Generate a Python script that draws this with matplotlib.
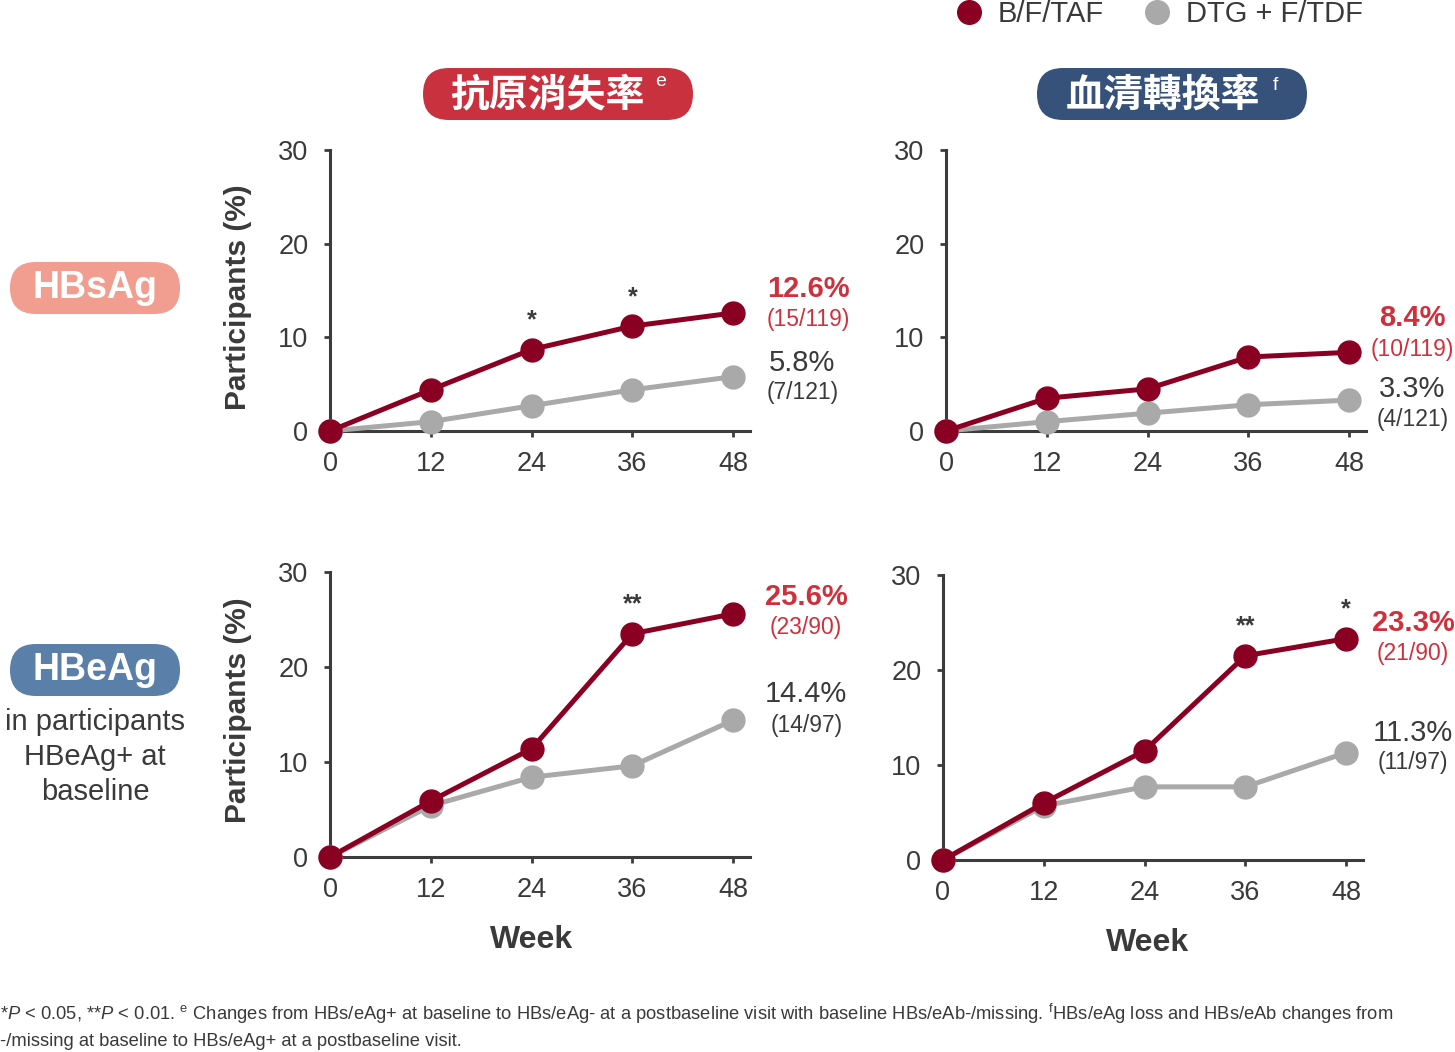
import matplotlib
matplotlib.use("Agg")
import matplotlib.pyplot as plt
from matplotlib.patches import FancyBboxPatch
from matplotlib.lines import Line2D

plt.rcParams["font.family"] = ["Liberation Sans", "DejaVu Sans"]
plt.rcParams["mathtext.fontset"] = "custom"
plt.rcParams["mathtext.rm"] = "Liberation Sans"
plt.rcParams["mathtext.it"] = "Liberation Sans:italic"

# data
weeks = [0, 12, 24, 36, 48]
hbsag_loss_bft = [0, 4.4, 8.7, 11.2, 12.6]
hbsag_loss_dtg = [0, 1.0, 2.7, 4.4, 5.8]
hbsag_sero_bft = [0, 3.5, 4.5, 7.9, 8.4]
hbsag_sero_dtg = [0, 1.0, 1.9, 2.8, 3.3]
hbeag_loss_bft = [0, 5.9, 11.4, 23.5, 25.6]
hbeag_loss_dtg = [0, 5.4, 8.4, 9.6, 14.4]
hbeag_sero_bft = [0, 6.0, 11.5, 21.5, 23.3]
hbeag_sero_dtg = [0, 5.7, 7.7, 7.7, 11.3]

end_labels = {
    "tl": [("12.6%", "(15/119)"), ("5.8%", "(7/121)")],
    "tr": [("8.4%", "(10/119)"), ("3.3%", "(4/121)")],
    "bl": [("25.6%", "(23/90)"), ("14.4%", "(14/97)")],
    "br": [("23.3%", "(21/90)"), ("11.3%", "(11/97)")],
}
stars = {
    "tl": {24: "*", 36: "*"},
    "tr": {},
    "bl": {36: "**"},
    "br": {36: "**", 48: "*"},
}

RED = "#8a0022"
GRAY = "#a9a9a9"
RED_TXT = "#d0303c"
TXT = "#3a3a3a"
AX = "#3c3c3c"

W, H = 1455, 1052
fig = plt.figure(figsize=(W / 100, H / 100), dpi=100)

# overlay in pixel units for pills and free text
bg = fig.add_axes([0, 0, 1, 1])
bg.set_xlim(0, W)
bg.set_ylim(H, 0)
bg.axis("off")


def pill(x0, x1, y0, y1, color):
    h = y1 - y0
    bg.add_patch(FancyBboxPatch((x0, y0), x1 - x0, h,
                                boxstyle=f"round,pad=0,rounding_size={h / 2}",
                                fc=color, ec="none"))


pill(423, 693, 68, 120, "#c8313d")
pill(1037, 1307, 68, 120, "#36527a")
pill(10, 180, 262, 314, "#f19d90")
pill(10, 180, 644, 696, "#5a7fa8")

bg.text(547, 95, "抗原消失率", family=["Noto Sans CJK TC"], fontweight="bold",
        fontsize=28, color="white", ha="center", va="center")
bg.text(661, 82, "e", fontsize=14, color="white", ha="center", va="center")
bg.text(1163, 95, "血清轉換率", family=["Noto Sans CJK TC"], fontweight="bold",
        fontsize=28, color="white", ha="center", va="center")
bg.text(1275, 85, "f", fontsize=14, color="white", ha="center", va="center")
bg.text(95, 288, "HBsAg", fontsize=27, fontweight="bold", color="white",
        ha="center", va="center")
bg.text(95, 670, "HBeAg", fontsize=27, fontweight="bold", color="white",
        ha="center", va="center")
bg.text(95, 757, "in participants\nHBeAg+ at\nbaseline", fontsize=21,
        color=TXT, ha="center", va="center", linespacing=1.3)

# footnote
bg.text(0, 1014, r"*$P$ < 0.05, **$P$ < 0.01. $^{\mathrm{e}}$ Changes from HBs/eAg+ at baseline to "
        r"HBs/eAg- at a postbaseline visit with baseline HBs/eAb-/missing. $^{\mathrm{f}}$HBs/eAg loss "
        r"and HBs/eAb changes from", fontsize=13.2, color=TXT, ha="left", va="center")
bg.text(0, 1041, "-/missing at baseline to HBs/eAg+ at a postbaseline visit.",
        fontsize=13.2, color=TXT, ha="left", va="center")

panels = {
    "tl": ([330 / W, 1 - 431 / H, 420 / W, 281 / H], hbsag_loss_bft, hbsag_loss_dtg),
    "tr": ([946 / W, 1 - 431 / H, 420 / W, 281 / H], hbsag_sero_bft, hbsag_sero_dtg),
    "bl": ([330 / W, 1 - 857 / H, 420 / W, 285 / H], hbeag_loss_bft, hbeag_loss_dtg),
    "br": ([943 / W, 1 - 860 / H, 420 / W, 285 / H], hbeag_sero_bft, hbeag_sero_dtg),
}
# label offsets in pixels from the last marker: (dx, dy pct, dy frac)
offsets = {
    "tl": [(75, 24, -7), (69, 14, -16)],
    "tr": [(63, 34, 3), (63, 11, -19)],
    "bl": [(73, 17, -14), (73, 26, -5)],
    "br": [(67, 16, -15), (67, 20, -10)],
}

for key, (rect, bft, dtg) in panels.items():
    ax = fig.add_axes(rect)
    ax.set_facecolor("none")
    ax.plot(weeks, dtg, color=GRAY, lw=3.6, marker="o", ms=16.5, clip_on=False, zorder=3)
    ax.plot(weeks, bft, color=RED, lw=3.6, marker="o", ms=16.5, clip_on=False, zorder=4)
    ax.set_xlim(0, 50)
    ax.set_ylim(0, 30)
    ax.set_xticks(weeks)
    ax.set_yticks([0, 10, 20, 30])
    for s in ["top", "right"]:
        ax.spines[s].set_visible(False)
    for s in ["left", "bottom"]:
        ax.spines[s].set_linewidth(2.2)
        ax.spines[s].set_color(AX)
    ax.tick_params(length=4.5, width=2, color=AX, labelsize=19.5, labelcolor=TXT)
    ax.tick_params(axis="x", pad=10)
    ax.tick_params(axis="y", pad=11)

    for (pct, frac), (dx, dy1, dy2), vals, bold, col in zip(
            end_labels[key], offsets[key], [bft, dtg], [True, False], [RED_TXT, TXT]):
        ax.annotate(pct, (48, vals[-1]), xytext=(dx, dy1), textcoords="offset pixels",
                    ha="center", va="center", fontsize=21,
                    fontweight="bold" if bold else "normal", color=col)
        ax.annotate(frac, (48, vals[-1]), xytext=(dx, dy2), textcoords="offset pixels",
                    ha="center", va="center", fontsize=16.5, color=col)

    for wk, s in stars[key].items():
        ax.annotate(s, (wk, bft[weeks.index(wk)]), xytext=(0, 22), textcoords="offset pixels",
                    ha="center", va="baseline", fontsize=18, fontweight="bold", color=TXT)

    if key in ("tl", "bl"):
        ax.set_ylabel("Participants (%)", fontsize=21.5, fontweight="bold", color=TXT)
        ax.yaxis.set_label_coords(-0.186, 0.477 if key == "tl" else 0.516)
    if key in ("bl", "br"):
        ax.set_xlabel("Week", fontsize=23, fontweight="bold", color=TXT)
        ax.xaxis.set_label_coords(0.48 if key == "bl" else 0.486, -0.24)

handles = [
    Line2D([], [], ls="none", marker="o", ms=17, color=RED),
    Line2D([], [], ls="none", marker="o", ms=17, color=GRAY),
]
fig.legend(handles, ["B/F/TAF", "DTG + F/TDF"], loc="center",
           bbox_to_anchor=(1160 / W, 1 - 14 / H), ncol=2, frameon=False,
           fontsize=21, handlelength=0.8, handletextpad=0.6, columnspacing=1.4,
           borderpad=0, labelcolor=TXT)

fig.savefig("out.png", dpi=100)
